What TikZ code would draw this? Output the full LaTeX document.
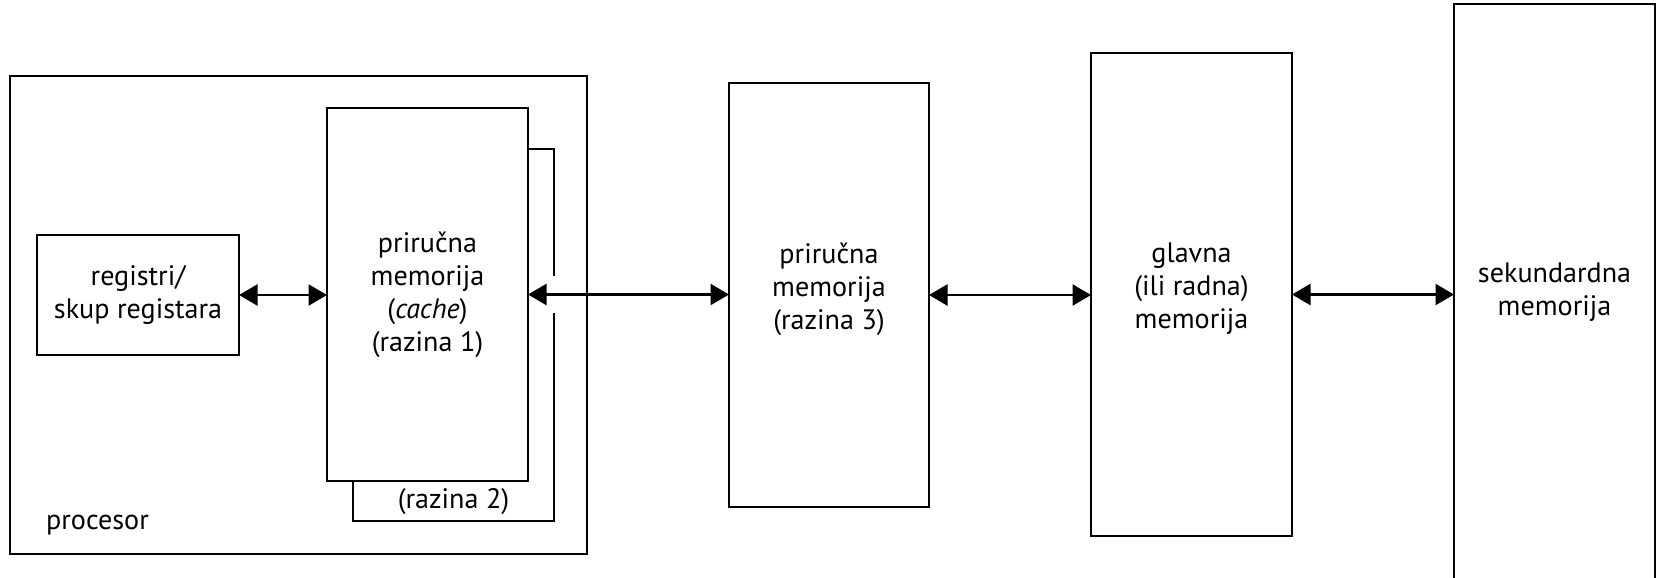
\documentclass[tikz,border=0pt]{standalone}
\usepackage{fontspec}
\setmainfont{PT Sans}
\usetikzlibrary{shapes,arrows.meta}
\tikzstyle{every picture}+=[font=\fontsize{16}{18.8}\selectfont]
\tikzstyle{kutija}=[draw, line width=1.1pt, inner sep=0pt, outer sep=0pt, align=center]
\tikzstyle{veza}=[line width=1.4pt, {Triangle[length=0.37cm,width=0.42cm]}-{Triangle[length=0.37cm,width=0.42cm]}]

\begin{document}
\begin{tikzpicture}

\useasboundingbox (0,0) rectangle (33.14,-11.54);

%% procesor i njegove razine
\node[kutija, minimum width=11.54cm, minimum height=9.56cm] (procesor) at (5.97,-6.30) {};
\node[anchor=base west] (procnatpis) at (0.80,-10.58) {procesor};

\node[kutija, minimum width=4.02cm, minimum height=7.44cm] (razina2) at (9.07,-6.70) {};
\node[kutija, fill=white, minimum width=4.02cm, minimum height=7.46cm] (razina1) at (8.55,-5.89)
  {priručna\\memorija\\(\textit{cache})\\(razina 1)};
\node (natpis2) at (9.07,-10.04) {(razina 2)};

\node[kutija, minimum width=4.04cm, minimum height=2.40cm] (registri) at (2.76,-5.90)
  {registri/\\skup registara};

%% ostale memorije (natpisi malo iznad sredine)
\node[kutija, minimum width=4.00cm, minimum height=8.48cm,
      label={[align=center, yshift=0.11cm]center:priručna\\memorija\\(razina 3)}] (razina3) at (16.58,-5.90) {};
\node[kutija, minimum width=4.02cm, minimum height=9.66cm,
      label={[align=center, yshift=0.11cm]center:glavna\\(ili radna)\\memorija}] (glavna) at (23.83,-5.89) {};
\node[kutija, minimum width=4.02cm, minimum height=11.68cm,
      label={[align=center, yshift=0.08cm]center:sekundardna\\memorija}] (sekundarna) at (31.09,-5.92) {};

%% prekid ruba razine 2 oko strelice
\coordinate (jaz) at (razina2.east |- razina1.east);
\fill[white] ([shift={(-0.08,-0.37)}]jaz) rectangle ([shift={(0.08,0.37)}]jaz);

%% veze
\draw[veza] (registri.east) -- (registri.east -| razina1.west);
\draw[veza] (razina1.east) -- (razina1.east -| razina3.west);
\draw[veza] (razina3.east) -- (razina3.east -| glavna.west);
\draw[veza] (glavna.east) -- (glavna.east -| sekundarna.west);

\end{tikzpicture}
\end{document}
